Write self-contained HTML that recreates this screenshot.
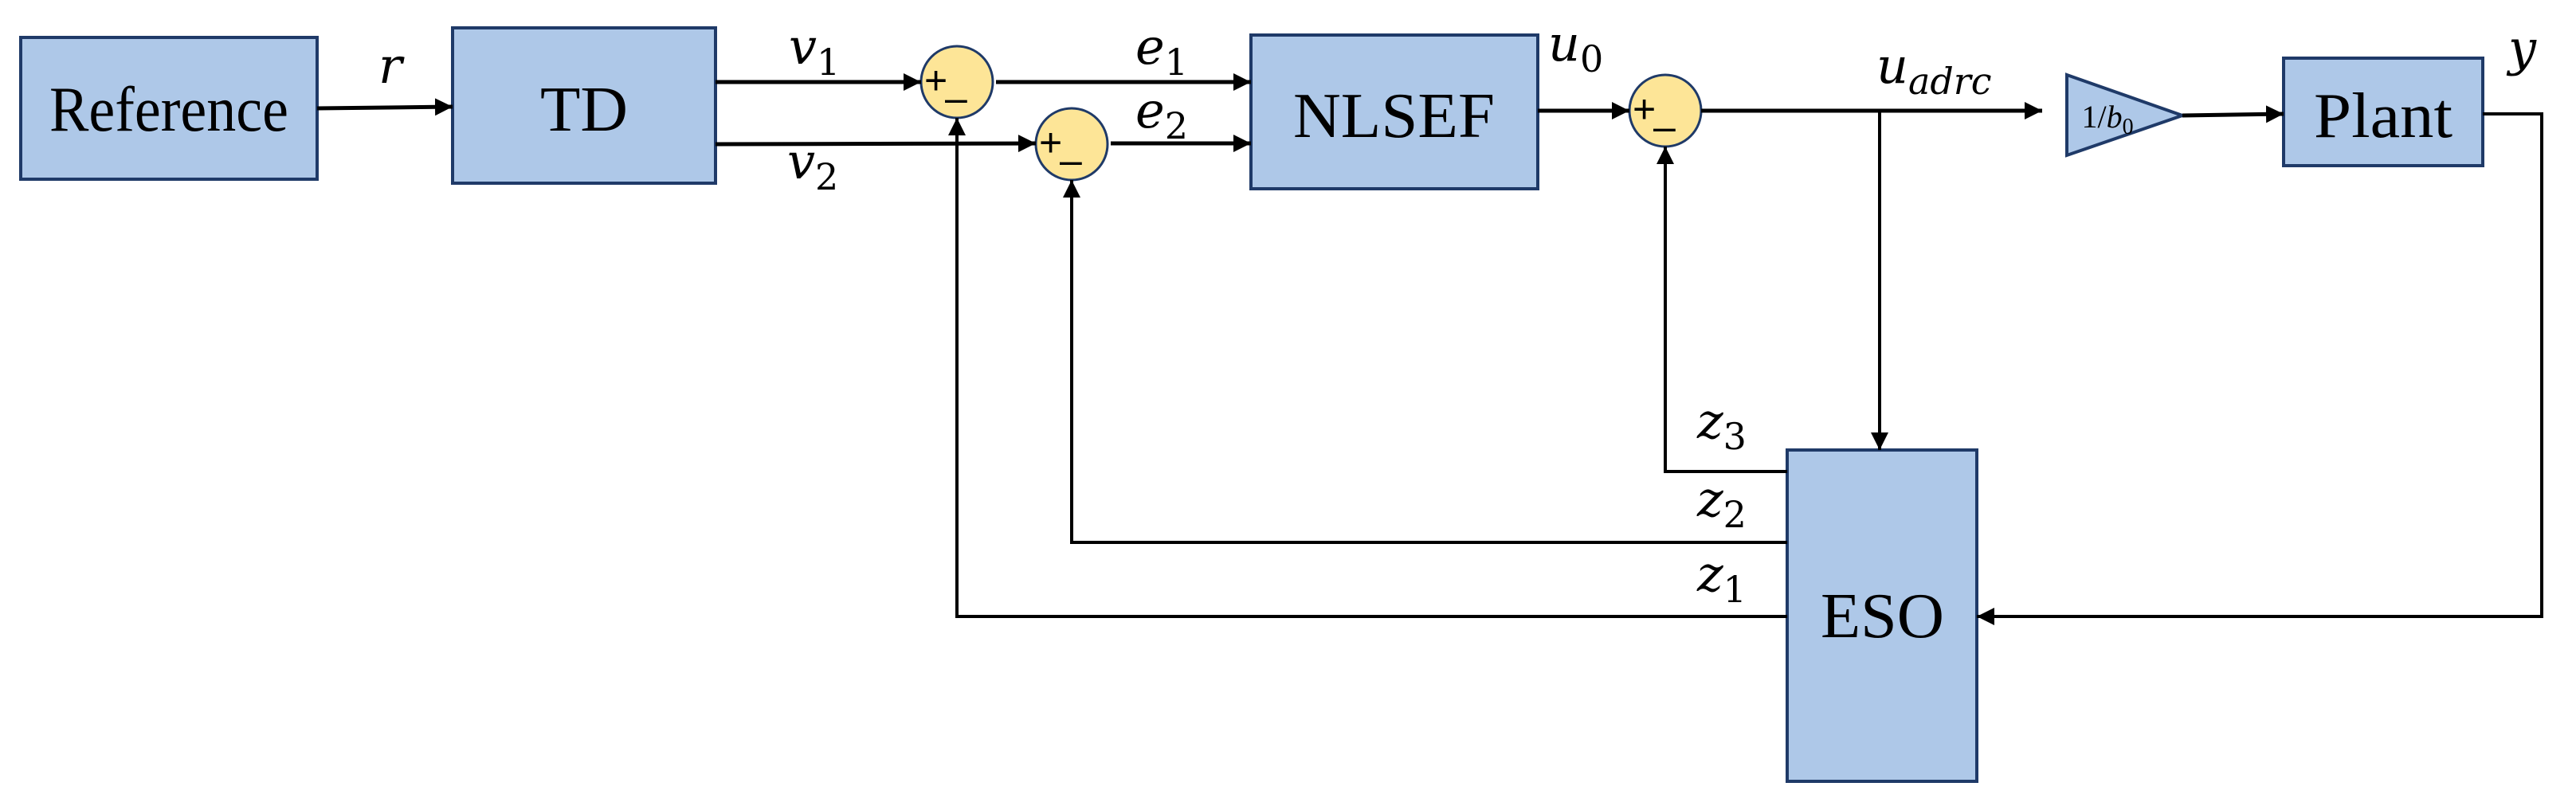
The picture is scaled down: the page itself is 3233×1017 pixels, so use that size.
<!DOCTYPE html>
<html><head><meta charset="utf-8"><style>html,body{margin:0;padding:0;background:#fff}</style></head>
<body>
<svg width="3233" height="1012" viewBox="0 0 3233 1012" xmlns="http://www.w3.org/2000/svg">
<defs>
<marker id="b" viewBox="0 0 10 10" markerWidth="22" markerHeight="22" refX="10" refY="5" orient="auto" markerUnits="userSpaceOnUse"><path d="M0,0 L10,5 L0,10 z" fill="#000"/></marker>
</defs>
<g fill="#aec8e8" stroke="#1f3a68" stroke-width="4">
<rect x="26" y="47" width="372" height="178"/>
<rect x="568" y="35" width="330" height="195"/>
<rect x="1570" y="44" width="360" height="193"/>
<rect x="2866" y="73" width="250" height="135"/>
<rect x="2243" y="565" width="238" height="416"/>
<polygon points="2594,94 2739,145 2594,195"/>
</g>
<g fill="#fde597" stroke="#1f3a68" stroke-width="3">
<ellipse cx="1201" cy="103" rx="45" ry="45"/>
<ellipse cx="1345" cy="181" rx="45" ry="45"/>
<ellipse cx="2090" cy="139" rx="45" ry="45"/>
</g>
<g stroke="#000" stroke-width="5" fill="none" marker-end="url(#b)">
<path d="M398,136 L568,134"/>
<path d="M898,103 L1156,103"/>
<path d="M898,181 L1300,180"/>
<path d="M1250,103 L1570,103"/>
<path d="M1394,180 L1570,180"/>
<path d="M1930,139 L2045,139"/>
<path d="M2135,139 L2563,139"/>
<path d="M2739,145 L2866,143"/>
<path d="M2359,139 L2359,565" stroke-width="4"/>
<path d="M3116,143 L3190,143 L3190,774 L2481,774" stroke-width="4"/>
<path d="M2243,592 L2090,592 L2090,184" stroke-width="4"/>
<path d="M2243,681 L1345,681 L1345,226" stroke-width="4"/>
<path d="M2243,774 L1201,774 L1201,148" stroke-width="4"/>
</g>
<g font-family="Liberation Serif, serif" fill="#000" font-size="80" lengthAdjust="spacingAndGlyphs">
<text x="62" y="164" textLength="300" lengthAdjust="spacingAndGlyphs">Reference</text>
<text x="678" y="164" textLength="110" lengthAdjust="spacingAndGlyphs">TD</text>
<text x="1623" y="172" textLength="253" lengthAdjust="spacingAndGlyphs">NLSEF</text>
<text x="2904" y="172" textLength="174" lengthAdjust="spacingAndGlyphs">Plant</text>
<text x="2285" y="800" textLength="155" lengthAdjust="spacingAndGlyphs">ESO</text>
<text x="2645" y="160" font-size="40" text-anchor="middle">1/<tspan font-style="italic">b</tspan><tspan font-size="28" dy="8">0</tspan></text>
</g>
<g font-family="DejaVu Serif, Liberation Serif, serif" font-style="italic" fill="#000" font-size="62">
<text x="475" y="104">r</text>
<text x="990" y="80">v<tspan font-style="normal" font-size="46" dy="14">1</tspan></text>
<text x="988" y="224">v<tspan font-style="normal" font-size="46" dy="14">2</tspan></text>
<text x="1425" y="80">e<tspan font-style="normal" font-size="46" dy="14">1</tspan></text>
<text x="1425" y="160">e<tspan font-style="normal" font-size="46" dy="14">2</tspan></text>
<text x="1943" y="76">u<tspan font-style="normal" font-size="46" dy="14">0</tspan></text>
<text x="2355" y="104">u<tspan font-size="46" dy="14">adrc</tspan></text>
<text x="3148" y="82">y</text>
<text x="2130" y="550">z<tspan font-style="normal" font-size="46" dy="14">3</tspan></text>
<text x="2130" y="648">z<tspan font-style="normal" font-size="46" dy="14">2</tspan></text>
<text x="2130" y="742">z<tspan font-style="normal" font-size="46" dy="14">1</tspan></text>
</g>
<g font-family="Liberation Sans, sans-serif" fill="#000" font-size="50">
<text x="1160" y="118">+</text><text x="1186" y="140">–</text>
<text x="1304" y="196">+</text><text x="1330" y="218">–</text>
<text x="2049" y="154">+</text><text x="2075" y="176">–</text>
</g>
</svg>
</body></html>
